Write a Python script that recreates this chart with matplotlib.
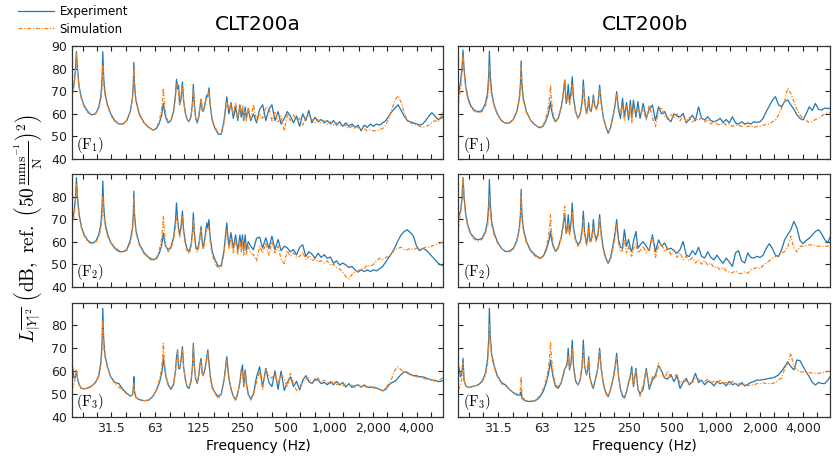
import matplotlib
matplotlib.use("Agg")
import matplotlib.pyplot as plt
from matplotlib.ticker import FixedLocator, NullFormatter

plt.rcParams['mathtext.fontset'] = 'cm'
plt.rcParams['font.family'] = ['DejaVu Sans']

# ---------------- data ----------------
fA_low = [16.8, 17.4, 17.8, 18.1, 18.4, 18.9, 19.6, 20.5, 21.7, 23.0,
          24.5, 25.8, 26.7, 27.2, 27.5, 27.9, 28.5, 29.6, 31.2, 33.3,
          35.5, 37.8, 40.2, 42.5, 44.0, 44.6, 45.0, 45.5, 46.5, 49.0,
          53.0, 57.0, 61.0, 64.5, 67.5, 70.0, 71.0, 71.8, 72.8, 74.5,
          77.5, 81.0, 84.5, 87.0, 88.5, 90.0, 91.5, 93.0, 95.0, 97.2,
          99.0, 102.0, 105.0, 108.0, 111.5, 114.0, 115.6, 117.5, 120.0, 123.0,
          126.0, 128.5, 130.7, 133.0, 135.5, 139.0, 141.5, 143.0, 145.5, 148.0,
          151.0, 156.0, 163.0, 172.0, 180.0, 188.0, 196.5, 203.0, 210.0, 218.0,
          226.0, 234.0, 242.0, 247.0, 252.0, 257.0, 263.0, 268.0, 276.0, 287.0]

fB_low = [16.8, 17.4, 17.8, 18.1, 18.4, 18.9, 19.6, 20.5, 21.7, 23.0,
          24.5, 25.8, 26.7, 27.2, 27.5, 27.9, 28.5, 29.6, 31.2, 33.3,
          35.5, 37.8, 40.2, 42.5, 44.2, 45.0, 45.5, 46.0, 47.0, 49.5,
          53.0, 57.0, 61.0, 64.5, 67.5, 70.0, 71.5, 72.5, 73.5, 75.5,
          78.5, 82.0, 86.0, 88.5, 90.8, 93.0, 94.5, 96.0, 98.0, 100.5,
          102.3, 104.5, 108.0, 112.0, 116.0, 119.5, 122.0, 124.5, 128.5, 131.0,
          132.8, 135.0, 138.0, 141.0, 143.0, 146.0, 150.0, 154.0, 158.0, 162.0,
          168.0, 175.0, 181.0, 188.0, 196.0, 202.0, 207.0, 213.0, 220.0, 227.0,
          234.0, 242.0, 250.0, 257.0, 263.0, 270.0, 281.0, 290.0]

f_high = [300, 315, 331, 347, 365, 383, 402, 422, 443, 465,
          489, 513, 539, 566, 594, 624, 655, 688, 722, 758,
          796, 836, 878, 922, 968, 1016, 1067, 1120, 1176, 1235,
          1297, 1362, 1430, 1501, 1576, 1655, 1738, 1825, 1916, 2012,
          2112, 2218, 2329, 2445, 2567, 2696, 2830, 2972, 3120, 3276,
          3440, 3612, 3793, 3982, 4181, 4390, 4610, 4840, 5082, 5336,
          5603, 5883, 6100]

# CLT200a, F1
a1_exp_low = [68.5, 73, 79, 87.5, 80, 72, 67, 63.5, 61, 59.5,
              60, 63, 68, 76, 87.5, 76, 69, 64, 60, 57,
              55.5, 55.5, 57, 61, 67, 73, 82.8, 73, 66, 60,
              56, 54, 52.8, 53.5, 56, 59.5, 62.5, 64.6, 62, 58.5,
              56, 57, 61, 68, 75.3, 71, 72.7, 64, 66.5, 74.2,
              66, 60, 57.5, 56.5, 59, 65, 73, 64, 58, 56,
              58.5, 63, 66.1, 61.5, 61, 64.5, 67, 68.3, 67.5, 71.5,
              64, 57, 53.5, 51, 51, 57, 67.5, 60, 65, 58,
              63, 57, 64, 58.5, 62.5, 57, 63, 58, 62, 57]
a1_sim_low = [67, 72, 78, 86.5, 79, 71.5, 66.5, 63, 60.5, 59.5,
              60, 62.5, 66.5, 72, 81.6, 73, 68, 63.5, 59.5, 56.5,
              55.5, 55.5, 57, 61, 66.5, 71.5, 80.1, 72, 65.5, 59.5,
              56, 54, 52.8, 54, 57, 62.5, 67, 71.3, 66, 60,
              56.5, 57, 61, 67, 73, 72, 70, 64, 66, 72.5,
              66, 60, 57.5, 56.5, 59, 64, 71, 64, 58, 56.5,
              59, 64, 67, 62, 61, 64, 66, 66.5, 68, 70,
              64, 57.5, 54, 51.5, 51, 56, 65.5, 62, 64, 60,
              65, 58, 63, 60, 64, 58, 61, 57, 63, 58]
a1_exp_high = [60, 56, 62, 64, 57, 62, 64, 57, 61, 55.5,
               58, 61, 59, 56, 59, 54.5, 60, 57, 61.5, 56,
               58.5, 56.5, 57.5, 56, 57, 55.5, 57, 55, 56.5, 54.5,
               56, 54.5, 55.5, 54, 55, 52.5, 55, 54, 55.5, 54.5,
               55.5, 55, 56, 57, 59, 61, 62.5, 64, 61.5, 59,
               57, 56.5, 56, 55.5, 55, 55.5, 57, 59, 60.5, 59,
               57.5, 58, 59]
a1_sim_high = [64, 57, 60, 58, 63, 62.5, 57, 61, 56, 59,
               52.5, 60, 57, 59.5, 57, 58, 55, 58, 59.5, 57.5,
               56, 57.5, 56, 57, 55.5, 56.5, 55, 56, 55, 54.5,
               55, 53.5, 54.5, 53.5, 54, 53, 53.5, 52.5, 53, 52.5,
               52.5, 53, 53.5, 55, 58, 62, 66, 68, 65, 60.5,
               57, 56, 55.5, 55, 54.5, 54, 54.5, 55, 56, 57,
               56.5, 59, 61.5]

# CLT200a, F2
a2_exp_low = [67.5, 73, 79, 88.4, 80, 72, 66.5, 63, 60.5, 59.4,
              60, 63, 68, 76, 86.9, 76, 68.5, 63.5, 59.5, 57,
              55.6, 55.5, 56.5, 60.5, 66, 72, 82.4, 72, 65, 59,
              55, 53, 52, 52.5, 55, 58.5, 61.5, 63.8, 61, 58,
              56.4, 57.5, 62, 69, 77.2, 70, 66, 63, 66.5, 73.5,
              65.5, 59.5, 56.5, 55.6, 58.5, 64.5, 72.8, 64, 58, 56.4,
              58.5, 62.5, 66.8, 60, 57.2, 62, 66, 68.3, 66, 69.8,
              62, 55.5, 52, 49, 49.5, 56, 68.3, 58, 64, 57,
              63, 56, 63, 57.5, 63, 56, 63, 56, 60, 58]
a2_sim_low = [66, 71, 77, 85.4, 78, 71, 66, 62.5, 60, 59,
              59.5, 62, 66, 71.5, 80.2, 72, 67, 62.5, 59.5, 57.9,
              56, 55.5, 56, 59.5, 64.5, 70, 79.5, 70.5, 64, 58.5,
              54.5, 52.5, 51.5, 53, 56.5, 61.5, 66, 71.3, 65, 59,
              55.5, 56.5, 61, 66, 71.3, 69, 65, 62, 65, 71,
              64, 58.5, 55.5, 54.5, 57.5, 63, 70, 62.5, 57, 55.5,
              57.5, 62, 65, 59, 56.5, 60.5, 64, 65, 65, 67,
              60, 54, 50.5, 48, 48.5, 54.5, 65, 57, 61, 55,
              61, 54.5, 60, 55.5, 60.5, 54, 60, 54.5, 58, 55]
a2_exp_high = [56.4, 61.5, 62, 57.2, 61.7, 57, 62.4, 56.5, 61, 56,
               58, 57.2, 55.5, 56.5, 54.1, 57.5, 58.6, 53.4, 55.5, 54.5,
               52.6, 54.9, 53, 54.2, 52.6, 53.2, 50.4, 51.5, 49.6, 50.5,
               49.7, 48.5, 49, 47.5, 46.5, 47.5, 46.7, 47.5, 46.7, 47.5,
               47, 48, 49, 51, 53, 55, 57.5, 60.5, 63, 64.5,
               65.3, 64, 62.4, 58, 56, 57, 56.4, 55, 53.5, 52,
               50.5, 49.6, 49.5]
a2_sim_high = [54.2, 51.5, 58, 55, 59.5, 54, 60, 55, 58, 52,
               50.3, 56, 53.5, 55, 53, 53.5, 55.5, 52, 53.5, 51.5,
               52.5, 51, 51.5, 50.5, 51.5, 49.5, 50, 48.5, 48, 46.5,
               44.5, 43.5, 45.5, 46.5, 47, 48, 48, 49.5, 49, 50,
               51.5, 52.6, 52, 53, 53.5, 55, 56.4, 57, 57.5, 56.5,
               56.4, 57, 56.5, 57, 56.5, 57, 57.5, 57.5, 58, 58.5,
               59, 59.5, 60]

# CLT200a, F3
a3_exp_low = [64.9, 57, 57.5, 59.7, 57, 54, 52.4, 52.2, 52.6, 53.4,
              55, 58, 64, 73, 87.5, 74, 67, 62, 57.5, 55,
              54.5, 52, 50.3, 49, 49.5, 52, 57.5, 51, 48.5, 47.5,
              47, 47.3, 49, 51.7, 55, 59, 62, 65.6, 63, 58,
              54, 52, 54, 60, 66, 69.3, 61.2, 61, 64.5, 70.7,
              62, 56, 53, 52.4, 55.5, 62, 72.2, 62, 56.5, 54.6,
              58, 63, 65.6, 59, 58, 61, 64, 66, 69.3, 64,
              58, 53, 50.5, 48.8, 50, 56, 66.3, 57, 52, 49,
              47.3, 50.5, 55, 60, 62.7, 53.2, 60.5, 55, 50, 47.8]
a3_sim_low = [51.7, 54, 57, 60.5, 57, 54, 52.4, 52.2, 52.6, 53.4,
              55, 57.5, 62.5, 70, 82.4, 71, 66, 61.5, 57.5, 54.5,
              53, 51.5, 50, 49, 49.5, 51.5, 54.6, 50.5, 48.5, 47.5,
              47, 47.3, 49, 52, 56, 61.5, 66, 72.2, 65, 59,
              54.5, 52.5, 54.5, 60, 64, 68.5, 62, 61.5, 64.5, 69.5,
              62, 56, 53.5, 53, 56, 62, 71, 62, 56.5, 55,
              58.5, 63.5, 64.5, 59, 58, 61, 63.5, 65, 68, 63,
              57.5, 52.5, 50, 48, 49.5, 55.5, 64.5, 57, 52.5, 49,
              47, 50, 55.5, 60.5, 60, 54, 59.5, 54, 49.5, 47.3]
a3_exp_high = [50, 57.5, 61.9, 53, 61.2, 55, 53.2, 60.1, 52, 60,
               51.5, 55, 57.5, 53.2, 55.5, 51.7, 56, 58, 55.4, 54.5,
               56.5, 56, 54.5, 55, 54, 55.4, 54, 55.5, 53.9, 55,
               53, 54.5, 52.8, 53.5, 54, 53, 53.9, 53, 52.8, 53,
               52.5, 52, 51.3, 52, 53.9, 55, 55.5, 57, 58.5, 59.7,
               59.5, 58.5, 58, 58, 57.5, 57.5, 57, 56.5, 56, 56,
               55.4, 55.5, 56]
a3_sim_high = [49.5, 55, 60, 52, 60.5, 58, 57, 58.5, 54.5, 58.5,
               56.5, 53, 59, 54.5, 51.5, 53.5, 55, 56.5, 57, 54.5,
               55.5, 57, 55, 56, 55, 54.5, 55.5, 54, 55, 53.5,
               54.5, 53.5, 53.8, 52.8, 53.9, 53, 53.5, 52.8, 53.5, 52.5,
               52.8, 52, 51.5, 52.5, 54.5, 57, 60.5, 61.9, 60.5, 59.5,
               59, 58.3, 57.8, 57.5, 57.3, 57, 56.5, 56.3, 56.1, 55.5,
               55.8, 56.5, 57.5]

# CLT200b, F1
b1_exp_low = [68.3, 74, 80, 88.2, 80, 72, 67, 63.5, 61.5, 60.9,
              61.5, 64.5, 69, 77, 87.8, 77, 69.5, 64, 60, 57,
              55.8, 56, 57.5, 61, 67, 73, 83.4, 74, 67, 61,
              57, 55, 53.8, 54.5, 57, 60, 63, 65.4, 62, 58.5,
              56.5, 58, 63, 68, 75, 64.6, 67, 73, 65.4, 70,
              76.4, 67, 61, 58, 60, 65, 75, 66, 60.2, 63,
              67.6, 62, 61, 64.5, 68.3, 64, 62, 64.5, 72.7, 65,
              58, 54, 51.4, 54, 59.5, 64, 69.8, 62, 58, 66.9,
              58.7, 65, 57.3, 66, 58, 66, 58.5, 65.4]
b1_sim_low = [64.6, 71, 78, 86, 79, 71, 66, 63, 61, 60.5,
              61, 63.5, 67, 72.5, 81.6, 73, 68, 63.5, 59.5, 57,
              55.8, 56, 57.5, 61, 66, 71, 81.6, 72, 66, 60.5,
              57, 55, 54, 55, 58.5, 63, 67.5, 72.7, 66, 60,
              57, 58, 63, 68.5, 75, 65, 65.5, 69, 64, 67,
              72.7, 66, 60.5, 58, 60, 64, 72, 65, 60, 63,
              66.5, 61.5, 61, 64, 67, 63.5, 62, 64, 71, 64.5,
              58, 54, 51.8, 54, 59, 63.5, 68.5, 63, 60, 64,
              57, 63.5, 59, 64, 56, 63, 60, 62]
b1_exp_high = [58, 64.6, 58, 62, 63.9, 57, 63.1, 60, 61, 58,
               56.5, 60, 59, 58.7, 60.2, 56, 57.5, 59.4, 57, 63.1,
               58, 57.3, 58.7, 57, 56.5, 57, 58, 56.2, 57.5, 56,
               58.7, 56, 55.4, 56.5, 55.5, 56, 55.5, 56.5, 56.2, 56.5,
               58, 60.9, 63.5, 66, 67.6, 64, 63.1, 65.5, 66.1, 64,
               62, 59.5, 58, 57.3, 60, 63.1, 61.5, 64.6, 62, 61.7,
               62.5, 62.4, 62.4]
b1_sim_high = [60, 62, 57.3, 63.9, 58.5, 54.3, 61, 63, 59, 57.5,
               60, 58, 60, 57, 59, 56.5, 58.5, 56, 58, 57,
               58.5, 56.5, 57.5, 55.5, 56.8, 55.5, 55, 56, 55, 55.5,
               54.5, 55, 54.8, 54.5, 55.3, 54.3, 54.8, 54, 54.4, 54.5,
               55, 55.2, 55.5, 56.5, 57.3, 59.5, 62.5, 65.5, 71.3, 69,
               65.4, 62, 59.4, 58, 57, 56.2, 56.5, 57.5, 58, 59,
               59.8, 60.3, 60.6]

# CLT200b, F2
b2_exp_low = [71, 73.5, 79, 88.4, 80, 72, 67, 63.5, 61.5, 60.8,
              61.5, 64.5, 69, 77, 87.6, 77, 69, 64, 60, 57,
              55.6, 55.8, 57, 60.5, 66, 72, 83.2, 73, 66, 60,
              56, 54, 52.7, 53.5, 56, 59.5, 62, 64.6, 61.5, 58,
              55.6, 57.5, 62, 67, 72, 63.6, 65.5, 72, 63.6, 69,
              77.2, 66, 61, 58.6, 60, 64.5, 73.5, 64, 59, 62.5,
              68.3, 61, 60.5, 64.5, 69.8, 63.5, 61, 63.5, 72, 63.5,
              56.5, 52.5, 50.4, 53, 59, 64, 69.8, 61, 57.5, 57,
              65.3, 58, 61, 57, 55.6, 60, 64.5, 57]
b2_sim_low = [66.1, 72, 79, 88.4, 79, 71, 66, 63, 61, 60.3,
              61, 63.5, 67, 72, 80.9, 73, 67.5, 63, 59.5, 57,
              55.6, 55.5, 56.5, 60, 65, 70, 80.2, 71, 65, 59.5,
              55.5, 53.5, 52.2, 53.5, 57, 62, 66.5, 72, 65, 59,
              55.6, 57, 62, 68, 75.7, 64, 64.5, 68, 63, 67,
              72.8, 65, 60, 58, 59, 63, 70, 63, 58, 61,
              66, 60, 59.5, 63, 67, 62, 60, 62.5, 70, 62,
              55.5, 52, 50.2, 52, 57.5, 62, 67.5, 59.5, 56, 56,
              61, 55, 58, 55, 53.5, 57, 59, 55]
b2_exp_high = [58.5, 60, 58, 56, 63.1, 55.5, 60.8, 58, 59.4, 56.5,
               57.1, 56, 54.9, 56.5, 60.1, 54, 53.4, 56, 54.2, 57.5,
               53.5, 52.7, 55.5, 53, 51.9, 54, 52, 50.4, 52.7, 51,
               49, 55, 56, 51.5, 50.5, 55, 53, 52.7, 53.5, 53,
               54, 57, 59.1, 57, 54, 53.4, 56.4, 60.8, 63, 65.3,
               69, 66, 60.5, 59.1, 60.5, 61.5, 63, 64.5, 65.3, 63.5,
               61, 59.5, 62]
b2_sim_high = [56, 58, 55, 57, 62, 53, 58, 59, 55.5, 57.5,
               54, 56.5, 53, 55, 52, 53.5, 51.5, 53, 50.5, 52,
               50, 51.5, 49.5, 50.5, 48.5, 49, 47.5, 48.5, 47, 46.5,
               46.2, 47, 46, 45.8, 46.6, 46, 47.5, 48, 48.5, 48,
               49.5, 50.5, 51.5, 52.5, 53.4, 54, 54.9, 55.6, 57.5, 62.5,
               57, 55.5, 57.9, 58, 58.2, 58.6, 58.6, 58.2, 57.9, 57.9,
               57.9, 58, 58.2]

# CLT200b, F3
b3_exp_low = [62.7, 57.5, 59, 65.6, 56, 53.5, 52.8, 53, 53.5, 53.9,
              55.5, 59, 65, 74, 87.5, 75, 67.5, 62.5, 58, 55,
              53.9, 52, 50.5, 49.5, 49.5, 49.5, 50.9, 48.2, 47.5, 46.8,
              46.6, 47, 48.5, 51, 54.5, 58.5, 62, 64.9, 62, 57.5,
              53.2, 52.5, 55, 58, 61, 62, 64, 70, 60.5, 64,
              73.6, 62, 55.5, 53.9, 56, 62, 73.6, 62, 58.3, 61,
              66.3, 57.5, 55, 53, 52.4, 55, 58, 62, 70, 61,
              54, 50, 48.8, 52, 57, 62, 67.8, 58, 52, 49,
              48.2, 51, 55, 58, 62, 53.2, 61.2, 52]
b3_sim_low = [51.7, 54, 57, 63.5, 56, 53.5, 52.8, 53, 53.5, 53.9,
              55, 58, 63, 70.5, 81, 72, 66.5, 62, 57.5, 54.5,
              53.5, 52, 50.5, 50, 50, 52, 57.5, 50, 48, 47,
              46.8, 47.3, 49, 52, 56, 61, 66, 72.9, 66, 59,
              54, 53.2, 55.5, 58.5, 61.5, 62, 63, 66.5, 61, 63.5,
              70, 62, 56, 54, 56.5, 62, 69.5, 62.5, 59, 61.5,
              65, 58, 55, 53.5, 53, 55.5, 58, 61.5, 68.5, 61,
              54.5, 50.5, 49, 52, 56.5, 61, 66, 58, 52.5, 49.5,
              48.5, 51, 54.5, 57, 60, 54, 60, 52.5]
b3_exp_high = [50, 52, 61.2, 52, 56.1, 58.3, 62.5, 60, 57, 56.5,
               58.5, 55.4, 58, 52.4, 55, 56.8, 54, 55.5, 59, 55,
               56, 54, 55.5, 55, 53.5, 55.5, 54.5, 55, 53.5, 55.5,
               54, 54.6, 53.5, 55, 53.5, 54.2, 55, 55.4, 56.1, 56,
               56.3, 56.5, 56.8, 57, 57.5, 58.3, 60, 61.9, 64.1, 62,
               60.5, 64.9, 64.5, 62, 59.7, 57.5, 55, 53.9, 55, 54.6,
               54.5, 56, 57.5]
b3_sim_high = [49, 54, 60, 53, 57.5, 56.5, 63.4, 59.5, 56.5, 60,
               57, 57.5, 58.5, 54.5, 56, 55.5, 54.5, 55, 57, 56.5,
               55.5, 55.4, 56.5, 55, 55.5, 54.5, 56, 54.5, 55, 54,
               55.5, 54.6, 54.5, 54, 54.2, 53.5, 54, 53.8, 54.6, 54.5,
               54.8, 54.6, 54.5, 54.6, 55, 56.1, 57, 61, 63.4, 67.8,
               62, 60.5, 59.7, 59.7, 59.5, 59.3, 59.2, 59, 59, 59.2,
               59.5, 59.8, 60]

titles = ['CLT200a', 'CLT200b']
row_tags = ['1', '2', '3']
major_ticks = [31.5, 63, 125, 250, 500, 1000, 2000, 4000]
major_labels = ['31.5', '63', '125', '250', '500', '1,000', '2,000', '4,000']
minor_ticks = [20, 25, 40, 50, 80, 100, 160, 200, 315, 400, 630, 800,
               1250, 1600, 2500, 3150, 5000]
series_names = ['Experiment', 'Simulation']

# ---------------- figure ----------------
BLUE = '#1f77b4'
ORANGE = '#ff7f0e'

fig = plt.figure(figsize=(8.33, 4.57), dpi=100)
col_left = [0.0861, 0.5502]
col_w = 0.4462
rows = [(0.652, 0.2473), (0.3726, 0.2466), (0.0882, 0.2495)]

panels = [
    [(fA_low, a1_exp_low, a1_sim_low, a1_exp_high, a1_sim_high),
     (fB_low, b1_exp_low, b1_sim_low, b1_exp_high, b1_sim_high)],
    [(fA_low, a2_exp_low, a2_sim_low, a2_exp_high, a2_sim_high),
     (fB_low, b2_exp_low, b2_sim_low, b2_exp_high, b2_sim_high)],
    [(fA_low, a3_exp_low, a3_sim_low, a3_exp_high, a3_sim_high),
     (fB_low, b3_exp_low, b3_sim_low, b3_exp_high, b3_sim_high)],
]

handles = None
for r in range(3):
    for c in range(2):
        flow, el, sl, eh, sh = panels[r][c]
        f = list(flow) + list(f_high)
        e = list(el) + list(eh)
        s = list(sl) + list(sh)
        ax = fig.add_axes([col_left[c], rows[r][0], col_w, rows[r][1]])
        l1, = ax.plot(f, e, color=BLUE, lw=0.9, solid_joinstyle='round')
        l2, = ax.plot(f, s, color=ORANGE, lw=0.9,
                      linestyle=(0, (3.2, 1.4, 0.9, 1.4)))
        if handles is None:
            handles = [l1, l2]
        ax.set_xscale('log')
        ax.set_xlim(16.8, 6100)
        ax.set_ylim(40, 90)
        if r == 0:
            ax.set_yticks([40, 50, 60, 70, 80, 90])
        else:
            ax.set_yticks([40, 50, 60, 70, 80])
        ax.xaxis.set_major_locator(FixedLocator(major_ticks))
        ax.xaxis.set_minor_locator(FixedLocator(minor_ticks))
        ax.xaxis.set_minor_formatter(NullFormatter())
        ax.set_xticklabels(major_labels)
        ax.tick_params(which='both', direction='in', top=True, right=True,
                       length=3.5, width=0.8, labelsize=9, colors='#222222',
                       labelcolor='#222222')
        if r < 2:
            ax.tick_params(labelbottom=False)
        if c == 1:
            ax.tick_params(labelleft=False)
        for sp in ax.spines.values():
            sp.set_color('#333333')
            sp.set_linewidth(0.9)
        ax.text(0.012, 0.04, r'$(\mathrm{F}_{%s})$' % row_tags[r],
                transform=ax.transAxes, fontsize=10.5, ha='left', va='bottom')

fig.text(0.309, 0.947, titles[0], ha='center', va='center', fontsize=14.5)
fig.text(0.774, 0.947, titles[1], ha='center', va='center', fontsize=14.5)
fig.text(0.310, 0.024, 'Frequency (Hz)', ha='center', va='center', fontsize=10)
fig.text(0.774, 0.024, 'Frequency (Hz)', ha='center', va='center', fontsize=10)
fig.text(0.034, 0.50,
         r'$L_{\overline{|Y|^2}}\ \left(\mathrm{dB,\ ref.}\ \left(50\,\frac{\mathrm{mms}^{-1}}{\mathrm{N}}\right)^2\right)$',
         rotation=90, ha='center', va='center', fontsize=14)

fig.legend(handles, series_names, loc='upper left',
           bbox_to_anchor=(0.022, 0.988), frameon=False, fontsize=8.5,
           handlelength=3.0, handletextpad=0.5, labelspacing=0.35,
           borderaxespad=0.0, borderpad=0.0)

fig.savefig('out.png', dpi=100)
